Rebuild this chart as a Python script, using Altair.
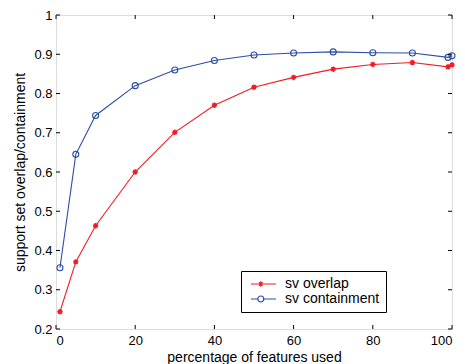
import altair as alt
import pandas as pd

x_vals = [1, 5, 10, 20, 30, 40, 50, 60, 70, 80, 90, 99, 100]
overlap = [0.244, 0.371, 0.463, 0.600, 0.701, 0.770, 0.816, 0.841, 0.862, 0.874, 0.879, 0.868, 0.873]
containment = [0.356, 0.645, 0.744, 0.820, 0.860, 0.884, 0.898, 0.903, 0.906, 0.904, 0.903, 0.892, 0.896]
series_names = ["sv overlap", "sv containment"]
series_colors = ["#ee1d23", "#2b4da3"]
x_ticks = [0, 20, 40, 60, 80, 100]
y_ticks = [0.2, 0.3, 0.4, 0.5, 0.6, 0.7, 0.8, 0.9, 1.0]

W, H = 396, 314
FONT = "Liberation Sans"

rows = []
for xv, a, b in zip(x_vals, overlap, containment):
    rows.append({"x": xv, "y": a, "series": series_names[0]})
    rows.append({"x": xv, "y": b, "series": series_names[1]})
df = pd.DataFrame(rows)
xt = pd.DataFrame({"x": x_ticks})
yt = pd.DataFrame({"y": y_ticks})

xscale = alt.Scale(domain=[0, 100], nice=False, zero=False)
yscale = alt.Scale(domain=[0.2, 1.0], nice=False, zero=False)

xaxis = alt.Axis(values=x_ticks, tickSize=0, domain=False, grid=False, labelFontSize=13,
                 labelFont=FONT, labelColor="black", labelPadding=5, labelOverlap=False,
                 title="percentage of features used", titleFont=FONT, titleFontSize=14,
                 titleFontWeight="normal", titleColor="black", titleY=32, titleBaseline="alphabetic")
yaxis = alt.Axis(values=y_ticks, tickSize=0, domain=False, grid=False, labelFontSize=13,
                 labelFont=FONT, labelColor="black", labelPadding=4, format="~g", labelOverlap=False,
                 title="support set overlap/containment", titleFont=FONT, titleFontSize=14,
                 titleFontWeight="normal", titleColor="black", titleX=-32, titleBaseline="alphabetic")

star_path = "M-1,0L1,0M0,-1L0,1M-0.7,-0.7L0.7,0.7M-0.7,0.7L0.7,-0.7"
# legend symbols: size 144 -> unit = 6px; drawn line spans 25px, starting 3px right of the symbol box
leg_star = ("M-0.5,0L3.667,0M1.133,-0.45L1.133,0.45M0.683,0L1.583,0"
            "M0.83,-0.3L1.43,0.3M0.83,0.3L1.43,-0.3")
leg_circ = ("M-0.5,0L0.633,0M1.633,0L3.667,0"
            "M0.633,0A0.5,0.5,0,1,1,1.633,0A0.5,0.5,0,1,1,0.633,0")

legend = alt.Legend(
    orient="none", legendX=185, legendY=256, title=None,
    strokeColor="black", fillColor="white", padding=6, rowPadding=1,
    labelFontSize=14, labelFont=FONT, labelColor="black", labelOffset=24,
    symbolSize=144, symbolStrokeWidth=1.2, symbolFillColor="transparent", symbolOpacity=1,
)

X = alt.X("x:Q", scale=xscale, axis=xaxis)
Y = alt.Y("y:Q", scale=yscale, axis=yaxis)

base = alt.Chart(df).encode(x=X, y=Y)

def only(i):
    return base.transform_filter(alt.datum.series == series_names[i])

line_over = only(0).mark_line(strokeWidth=1.1, color=series_colors[0])
line_cont = only(1).mark_line(strokeWidth=1.1, color=series_colors[1])
pts_over = only(0).mark_point(shape=star_path, size=30, filled=False, strokeWidth=1.4,
                              color=series_colors[0], opacity=1)
pts_cont = only(1).mark_point(shape="circle", size=36, filled=False, strokeWidth=1.1,
                              color=series_colors[1], opacity=1)

legend_layer = base.transform_filter(alt.datum.x < -1000).mark_point(filled=False, opacity=1).encode(
    color=alt.Color("series:N", scale=alt.Scale(domain=series_names, range=series_colors), legend=legend),
    shape=alt.Shape("series:N", scale=alt.Scale(domain=series_names, range=[leg_star, leg_circ]), legend=legend),
)

tick_b = alt.Chart(xt).mark_rule(color="black", strokeWidth=1).encode(
    x=X, y=alt.value(H), y2=alt.value(H - 4))
tick_t = alt.Chart(xt).mark_rule(color="black", strokeWidth=1).encode(
    x=X, y=alt.value(0), y2=alt.value(4))
tick_l = alt.Chart(yt).mark_rule(color="black", strokeWidth=1).encode(
    y=Y, x=alt.value(0), x2=alt.value(4))
tick_r = alt.Chart(yt).mark_rule(color="black", strokeWidth=1).encode(
    y=Y, x=alt.value(W), x2=alt.value(W - 4))

chart = alt.layer(line_over, line_cont, pts_over, pts_cont, legend_layer,
                  tick_b, tick_t, tick_l, tick_r).properties(
    width=W, height=H,
    autosize=alt.AutoSizeParams(type="none"),
    padding={"left": 48, "top": 7, "right": 5, "bottom": 35},
).configure_view(stroke="black", strokeWidth=1.2).configure(background="white")

chart.save("out.html", embed_options={"renderer": "svg", "actions": False})
